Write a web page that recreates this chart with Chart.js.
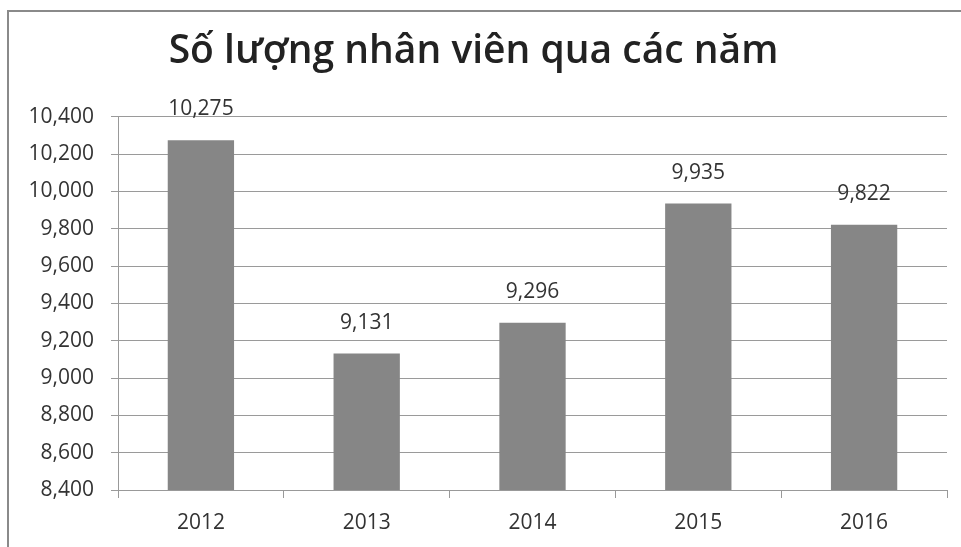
<!DOCTYPE html>
<html>
<head>
<meta charset="utf-8">
<script src="https://cdn.jsdelivr.net/npm/chart.js@4.4.1/dist/chart.umd.min.js"></script>
<style>
  html, body { margin: 0; padding: 0; background: #ffffff; }
  #wrap { position: relative; width: 961px; height: 547px; }
  #frame { position: absolute; left: 7px; top: 10px; width: 960px; height: 540px;
           border-left: 2px solid #8a8a8a; border-top: 2px solid #8a8a8a; pointer-events: none; }
  canvas { position: absolute; left: 0; top: 0; }
</style>
</head>
<body>
<div id="wrap">
  <canvas id="c" width="961" height="547"></canvas>
  <div id="frame"></div>
</div>
<script>
const chartTitle = "Số lượng nhân viên qua các năm";
const years = ["2012", "2013", "2014", "2015", "2016"];
const employees = [10275, 9131, 9296, 9935, 9822];
const yMin = 8400;
const yMax = 10400;
const yStep = 200;

const FONT = "'Open Sans', 'Noto Sans', sans-serif";
const fmt = v => v.toLocaleString('en-US');

const valueLabels = {
  id: 'valueLabels',
  afterDatasetsDraw(chart) {
    const ctx = chart.ctx;
    const meta = chart.getDatasetMeta(0);
    ctx.save();
    ctx.font = "21px " + FONT;
    ctx.fillStyle = "#333333";
    ctx.textAlign = "center";
    ctx.textBaseline = "middle";
    meta.data.forEach((bar, i) => {
      ctx.fillText(fmt(employees[i]), bar.x, bar.y - 31);
    });
    ctx.restore();
  }
};

new Chart(document.getElementById('c'), {
  type: 'bar',
  data: {
    labels: years,
    datasets: [{
      data: employees,
      backgroundColor: '#868686',
      borderWidth: 0,
      barPercentage: 0.4,
      categoryPercentage: 1.0
    }]
  },
  options: {
    responsive: false,
    animation: false,
    devicePixelRatio: 1,
    layout: { padding: { left: 0, right: 14, top: 20, bottom: 0 } },
    plugins: {
      legend: { display: false },
      tooltip: { enabled: false },
      title: {
        display: true,
        text: chartTitle,
        color: '#222222',
        font: { family: FONT, size: 39, weight: '600' },
        padding: { top: 8, bottom: 42 }
      }
    },
    scales: {
      x: {
        offset: true,
        grid: { display: true, offset: true, drawOnChartArea: false, tickLength: 8, color: '#999999' },
        border: { display: true, color: '#999999' },
        ticks: { color: '#333333', font: { family: FONT, size: 21 }, padding: 12, maxRotation: 0 },
        afterFit(scale) { scale.height = 57; }
      },
      y: {
        min: yMin,
        max: yMax,
        ticks: {
          stepSize: yStep,
          color: '#333333',
          font: { family: FONT, size: 21 },
          padding: 17,
          callback: v => fmt(v)
        },
        grid: { color: '#9a9a9a', tickLength: 7, lineWidth: 1 },
        border: { display: true, color: '#999999', dash: [] },
        afterFit(scale) { scale.width = 118; }
      }
    }
  },
  plugins: [valueLabels]
});
</script>
</body>
</html>
